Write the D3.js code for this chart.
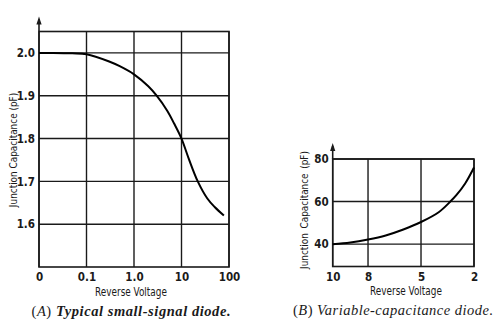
<!DOCTYPE html>
<html><head><meta charset="utf-8">
<script src="https://cdn.jsdelivr.net/npm/d3@7"></script>
<style>
html,body{margin:0;padding:0;background:#fff;}
svg{display:block;}
</style></head>
<body>
<svg id="c" width="495" height="323"></svg>
<script>
// ---- Chart A data: typical small-signal diode ----
const aVoltage = [0.01, 0.02, 0.05, 0.1, 0.3, 0.5, 1, 2, 3, 5, 7, 10, 14, 22, 35, 50, 78];
const aCap     = [2.0, 2.0, 1.999, 1.997, 1.980, 1.969, 1.95, 1.922, 1.90, 1.865, 1.835, 1.80, 1.755, 1.70, 1.66, 1.64, 1.62];
const aXTicks  = [0.01, 0.1, 1, 10, 100];
const aXLabels = ["0", "0.1", "1.0", "10", "100"];
const aYTicks  = [1.6, 1.7, 1.8, 1.9, 2.0];

// ---- Chart B data: variable-capacitance diode ----
const bVoltage = [10, 9, 8, 7, 6, 5, 4, 3.34, 3, 2.5, 2];
const bCap     = [40, 40.8, 42.2, 44.1, 46.9, 50.4, 55, 60, 63, 68.5, 76];
const bXTicks  = [10, 8, 5, 2];
const bYTicks  = [40, 60, 80];

const svg = d3.select("#c");
const tickFont = '"DejaVu Sans Condensed","DejaVu Sans",sans-serif';
const ink = "#1a1a1a";

function panel(opts){
  const g = svg.append("g");
  const x = opts.x, y = opts.y;
  const [x0,x1] = x.range(), [y0,y1] = y.range(); // y0 bottom, y1 top
  g.append("g").selectAll("line").data(opts.xTicks).join("line")
    .attr("x1", d=>x(d)).attr("x2", d=>x(d)).attr("y1", y0).attr("y2", y1)
    .attr("stroke", ink).attr("stroke-width", 1.4);
  g.append("g").selectAll("line").data(opts.yTicks).join("line")
    .attr("x1", x0).attr("x2", x1).attr("y1", d=>y(d)).attr("y2", d=>y(d))
    .attr("stroke", ink).attr("stroke-width", 1.4);
  g.append("rect").attr("x", x0).attr("y", y1).attr("width", x1-x0).attr("height", y0-y1)
    .attr("fill","none").attr("stroke", ink).attr("stroke-width", 1.6);
  g.append("line").attr("x1", x0).attr("x2", x0).attr("y1", y1).attr("y2", y1-opts.arrow)
    .attr("stroke", ink).attr("stroke-width", 1.6);
  g.append("path").attr("d", `M${x0},${y1-opts.arrow-3}L${x0-2.6},${y1-opts.arrow+5}L${x0+2.6},${y1-opts.arrow+5}Z`)
    .attr("fill", ink);
  const xa = g.append("g").attr("transform", `translate(0,${y0})`)
    .call(d3.axisBottom(x).tickValues(opts.xTicks).tickSize(0).tickPadding(6)
      .tickFormat((d,i)=>opts.xLabels ? opts.xLabels[i] : d));
  const ya = g.append("g").attr("transform", `translate(${x0},0)`)
    .call(d3.axisLeft(y).tickValues(opts.yTicks).tickSize(0).tickPadding(4)
      .tickFormat(opts.yFormat));
  [xa, ya].forEach(a=>{
    a.select(".domain").remove();
    a.selectAll("text").attr("fill", ink).style("font-family", tickFont)
      .style("font-size", "11.5px").style("font-weight", "600");
  });
  const line = d3.line().x(d=>x(d[0])).y(d=>y(d[1])).curve(d3.curveCatmullRom.alpha(0.5));
  g.append("path").datum(d3.zip(opts.vx, opts.vy)).attr("d", line)
    .attr("fill","none").attr("stroke", "#000").attr("stroke-width", 2);
  g.append("text").attr("transform", `translate(${opts.xTitleX},${opts.xTitleY}) scale(0.86,1)`)
    .attr("text-anchor","middle")
    .style("font-family", tickFont).style("font-size","11.5px").attr("fill", ink).text("Reverse Voltage");
  g.append("text").attr("transform", `translate(${opts.yTitleX},${opts.yTitleY}) rotate(-90) scale(0.9,1)`)
    .attr("text-anchor","middle").style("font-family", tickFont).style("font-size","11px")
    .style("word-spacing", opts.wordSpacing)
    .attr("fill", ink).text("Junction Capacitance (pF)");
  const cap = g.append("text").attr("x", opts.capX).attr("y", opts.capY).attr("text-anchor","middle")
    .style("font-family", '"Liberation Serif","DejaVu Serif",serif').style("font-size","14.5px")
    .style("font-style","italic").attr("fill", ink)
    .attr("textLength", opts.capLen).attr("lengthAdjust","spacing");
  cap.append("tspan").text("(").style("font-style","normal");
  cap.append("tspan").text(opts.letter).style("font-style","italic");
  cap.append("tspan").text(") ").style("font-style","normal");
  cap.append("tspan").text(opts.caption).style("font-weight", opts.capWeight);
}

panel({
  x: d3.scaleLog().domain([0.01, 100]).range([39, 229]),
  y: d3.scaleLinear().domain([1.5, 2.05]).range([267, 31.5]),
  xTicks: aXTicks, xLabels: aXLabels, yTicks: aYTicks, yFormat: d3.format(".1f"),
  vx: aVoltage, vy: aCap, arrow: 12,
  xTitleX: 131, xTitleY: 296, yTitleX: 17, yTitleY: 150, wordSpacing: "0px",
  capX: 131, capY: 316, capLen: 199, letter: "A", caption: "Typical small-signal diode.", capWeight: "bold"
});

panel({
  x: d3.scaleLinear().domain([10, 2]).range([332.7, 474]),
  y: d3.scaleLinear().domain([29.5, 80]).range([266.5, 159]),
  xTicks: bXTicks, yTicks: bYTicks, yFormat: d3.format("d"),
  vx: bVoltage, vy: bCap, arrow: 13,
  xTitleX: 406, xTitleY: 295, yTitleX: 308, yTitleY: 210, wordSpacing: "2px",
  capX: 393, capY: 315, capLen: 200, letter: "B", caption: "Variable-capacitance diode.", capWeight: "normal"
});
</script>
</body></html>
